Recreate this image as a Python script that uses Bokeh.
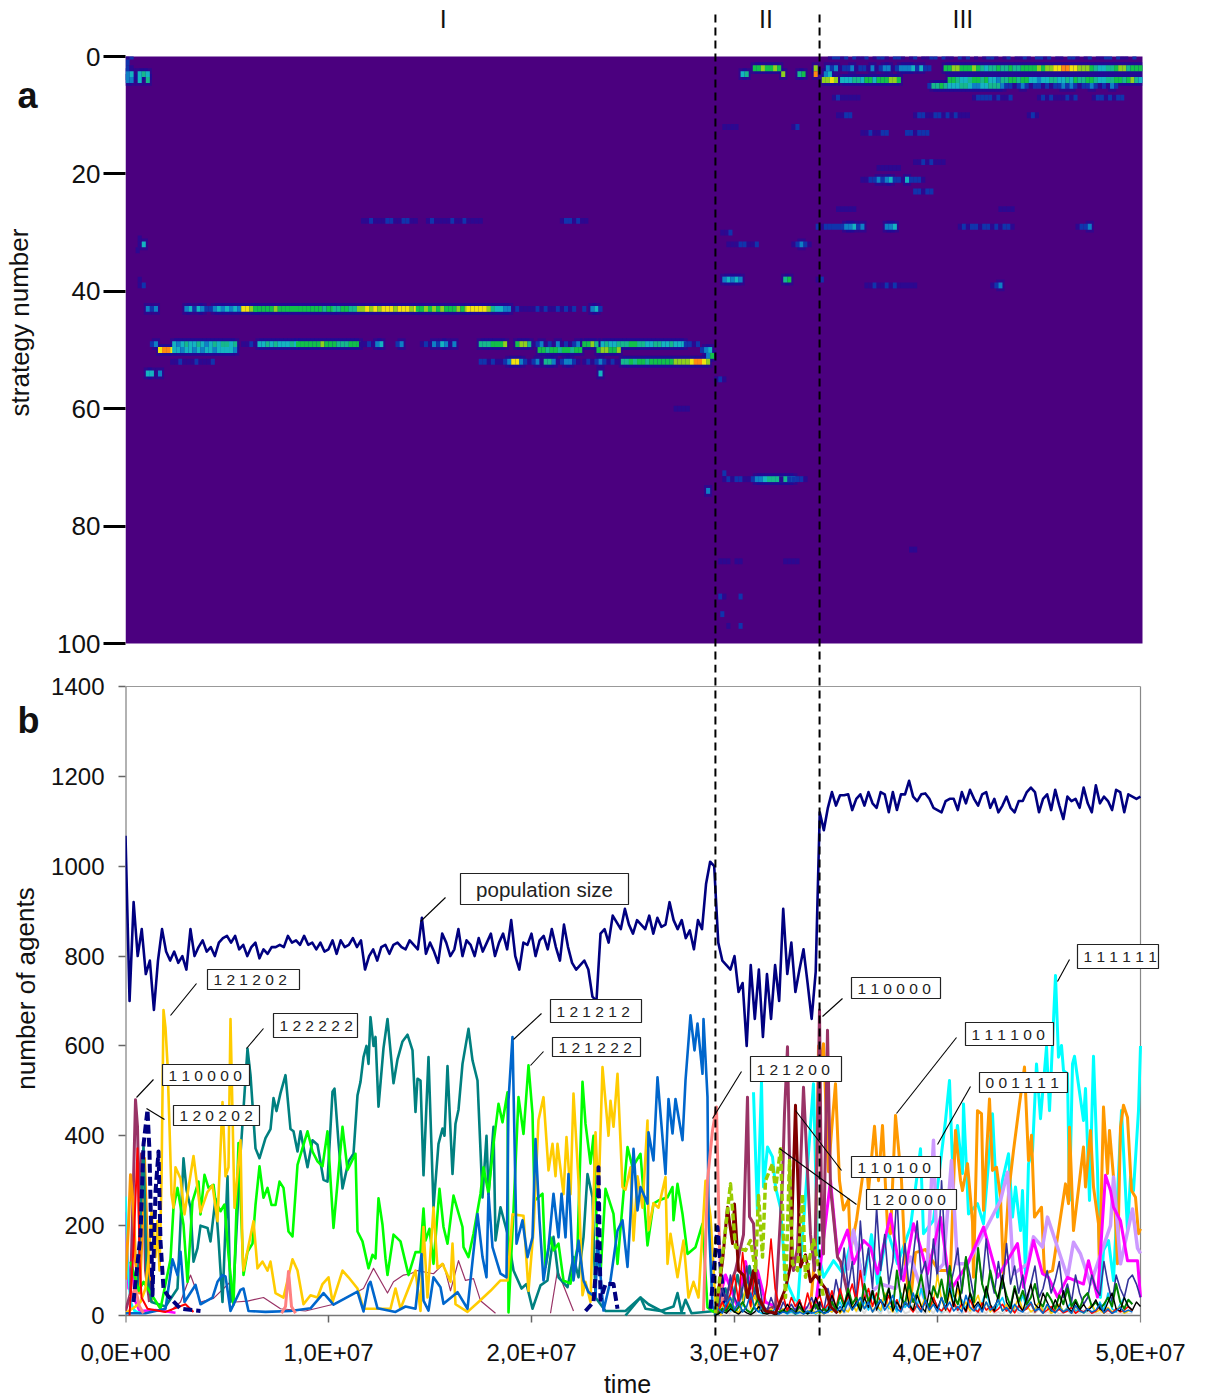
import math
from bokeh.plotting import figure
from bokeh.layouts import column, row
from bokeh.embed import file_html
from bokeh.resources import INLINE
from bokeh.models import Range1d, FixedTicker, LinearColorMapper, ColumnDataSource
from bokeh.core.properties import value

# ------------------------- DATA -------------------------
Y_TICKS_A = [0, 20, 40, 60, 80, 100]
Y_TICKS_B = [0, 200, 400, 600, 800, 1000, 1200, 1400]
X_TICKS = [0, 1e7, 2e7, 3e7, 4e7, 5e7]
X_LABELS = ["0,0E+00", "1,0E+07", "2,0E+07", "3,0E+07", "4,0E+07", "5,0E+07"]
PHASE_BOUNDS = [29.06e6, 34.19e6]
PHASES = [("I", 15.65e6), ("II", 31.55e6), ("III", 41.25e6)]

HEAT_PALETTE = ["#4B007F", "#2C0890", "#1034AC", "#0E80C4", "#14B4C0", "#16B88C", "#12C04A", "#8FD01E", "#F2E40E", "#FF8A10"]
# (strategy, start time in 1e6, one digit per 0.2e6 of time)
HEAT = [
 (0,0.0,"12"),(1,0.0,"2"),(2,0.0,"21"),(3,0.0,"3404540"),(4,0.0,"330405"),
 (28,11.6,"11211122112211"),(28,14.8,"12111121121111"),(28,21.4,"1221211"),
 (32,0.6,"14"),(31,0.6,"1"),(33,0.5,"1"),(38,0.6,"1"),(39,0.6,"12"),
 (43,1.0,"3230"),(43,2.9,"34243223434343"),(43,5.7,"8876"),(43,6.3,"66666766666666666566"),
 (43,10.2,"556655"),(43,11.4,"778787888788878"),(43,14.3,"6676767666767"),(43,16.8,"888887"),
 (43,18.0,"54433"),(43,19.0,"1211112121121212"),(43,22.5,"20342"),
 (49,1.2,"23"),(49,2.3,"4345445434545545"),(49,5.7,"1121"),(49,6.5,"4454544454"),
 (49,8.4,"6666667666555666"),(49,11.5,"112134"),(49,13.3,"23"),(49,14.5,"121324313"),
 (49,17.4,"5556667"),(49,19.2,"6775"),(49,20.0,"1231213121231"),(49,22.5,"6675"),
 (49,23.4,"45445"),(49,24.4,"5566554455"),(49,26.4,"445444"),(49,27.5,"2212"),
 (50,1.6,"8998"),(50,2.3,"4434434344344443"),(50,20.3,"66566566566"),(50,23.2,"677667"),
 (50,28.3,"234"),(51,28.6,"36"),
 (52,2.2,"11211121112"),(52,17.4,"2212112388321231553123321"),(52,22.5,"121232121"),
 (52,24.4,"5565665666"),(52,26.4,"666777789987"),
 (54,1.0,"4403"),(54,23.3,"4"),(55,29.0,"121"),(60,27.0,"1111"),
 (71,29.4,"2"),(72,29.4,"1212211233455555542"),(72,32.2,"1022"),(72,33.2,"21"),(74,28.6,"3"),
 (86,29.2,"111011"),(86,32.4,"1111"),(84,38.6,"11"),(92,29.2,"21"),(92,30.2,"2"),(95,29.3,"2"),(97,29.6,"1"),(97,30.2,"2"),
 (0,34.6,"1221202112012210221012011220211021201012210120112102212011022101201122021102"),
 (2,30.9,"6676676"),(2,33.9,"7"),
 (2,34.5,"32312231221312331233342422"),
 (2,40.3,"66776667654556556556666767788998877765445567756667767"),
 (3,30.3,"45"),(3,32.3,"7"),(3,33.1,"56"),(3,33.9,"9"),(3,34.4,"34"),
 (4,34.3,"7787"),(4,35.2,"444554664666776"),
 (4,40.5,"665445665644355665664434455445465566544556656754"),
 (5,39.5,"2556544455433445553"),(5,43.3,"2212321221212232321223212132"),
 (7,34.8,"1211111"),(7,41.7,"1222212112"),(7,44.9,"1212111212"),(7,47.6,"12212122"),
 (10,35.0,"1122"),(10,38.8,"12211221212111"),(10,44.4,"121"),
 (13,36.2,"1121122"),(13,38.4,"221222"),(12,29.4,"1111"),(12,32.8,"12"),
 (18,38.8,"11212111"),(19,37.0,"111111"),
 (21,36.2,"112232342212"),(21,38.4,"42221"),(23,38.8,"22122"),
 (26,35.0,"11111"),(26,43.0,"1111"),
 (29,34.0,"21222"),(29,35.0,"2233423"),(29,37.4,"334"),(29,41.0,"12122122121221"),(29,46.8,"1223"),
 (30,29.3,"112"),(32,29.6,"11122112"),(32,32.8,"12321"),
 (38,29.4,"34343"),(38,32.4,"56"),(38,34.0,"12"),(39,36.4,"1121121211111"),(39,42.6,"123"),
]

POP = [1068,700,920,800,860,760,790,680,790,860,810,790,810,785,800,
 770,860,800,820,835,810,820,800,830,840,845,830,845,815,825,
 800,820,830,795,815,805,820,820,825,820,845,830,835,825,845,
 825,830,815,830,810,815,835,805,835,820,825,840,820,835,770,
 800,815,790,820,825,805,825,830,820,815,835,825,815,885,805,
 830,810,785,850,830,800,815,860,800,835,825,800,840,810,830,
 850,800,830,850,815,880,800,770,830,825,850,800,835,845,815,
 860,820,790,870,820,785,770,780,790,770,710,700,850,860,830,
 890,875,860,905,870,850,880,870,860,890,850,885,865,870,920,
 880,860,880,840,857,815,880,860,961,1010,1000,830,790,
 780,770,800,720,740,600,780,660,770,620,760,660,780,700,905,760,830,720,770,815,740,660,765,
 1120,1080,1130,1165,
 1135,1158,1158,1160,1125,1150,1160,1135,1165,1140,1130,1165,1160,1120,1165,1125,
 1160,1160,1190,1155,1145,1160,1162,1150,1130,1125,1120,1145,1150,1150,1125,1165,
 1140,1170,1150,1135,1160,1165,1130,1150,1120,1135,1155,1130,1120,1145,1145,1165,
 1175,1165,1120,1150,1160,1125,1170,1135,1105,1155,1145,1150,1130,1175,1140,
 1120,1180,1140,1155,1145,1125,1170,1165,1120,1160,1155,1150,1155]

# series below: (sample index, agents); one index = 5e7/1015 of time
GOLD = [(0,5),(10,20),(15,30),(20,60),(24,150),(26,230),(28,180),(30,130),(32,210),(34,100),(36,300),(38,680),(40,640),(42,560),(44,420),(46,270),(48,240),(50,330),(55,305),(59,225),(62,270),(68,355),(75,230),(82,275),(87,290),(92,210),(97,475),(100,310),(103,330),(105,660),(109,240),(115,390),(117,140),(118,100),(128,210),(132,105),(137,120),(142,100),(145,120),(150,50),(158,40),(167,125),(172,100),(178,25),(185,45),(192,40),(197,70),(203,85),(207,30),(217,100),(223,85),(232,60),(238,15),(265,15),(270,60),(275,15),(290,100),(295,10),(298,197),(302,40),(308,240),(312,105),(317,115),(325,75),(327,160),(330,25),(342,8),(353,30),(365,55),(375,78),(382,78),(387,225),(398,222),(403,55),(408,190),(413,435),(418,486),(423,323),(427,382),(430,310),(432,382),(438,270),(441,397),(445,270),(448,494),(453,300),(457,45),(460,75),(465,30),(470,408),(473,263),(477,553),(483,400),(485,478),(488,420),(492,538),(497,286),(500,280),(505,330),(508,167),(512,310),(517,240),(522,434),(523,190),(528,250),(533,240),(540,308),(542,115),(545,182),(552,85),(558,167),(563,40),(568,75),(573,40),(580,300),(585,220),(590,30),(596,0)]
TEAL = [(12,60),(18,380),(21,100),(26,30),(40,20),(52,60),(58,350),(61,280),(65,240),(68,120),(72,150),(75,200),(82,195),(85,165),(90,260),(93,170),(97,30),(102,310),(105,30),(108,60),(115,360),(118,460),(122,594),(125,535),(130,372),(134,350),(140,395),(145,415),(148,484),(151,455),(155,495),(160,535),(165,415),(168,410),(172,365),(175,410),(178,375),(182,330),(187,390),(192,380),(198,302),(202,298),(207,498),(209,505),(213,385),(217,283),(223,343),(228,360),(232,490),(235,520),(238,575),(241,600),(243,560),(245,664),(248,600),(250,620),(253,465),(258,595),(262,660),(268,517),(272,570),(277,610),(282,625),(287,590),(290,453),(292,527),(295,523),(298,312),(303,575),(308,241),(313,382),(317,416),(319,400),(322,555),(327,315),(330,427),(333,458),(337,560),(343,638),(347,568),(352,523),(357,263),(361,400),(363,270),(368,420),(370,167),(375,241),(382,182),(388,100),(396,60),(401,70),(407,15),(415,67),(422,78),(425,130),(428,175),(433,85),(442,63),(448,130),(453,85),(458,174),(462,315),(467,263),(470,40),(480,10),(500,10),(515,40),(523,25),(540,5),(560,5)]
GREEN = [(5,120),(13,55),(18,75),(35,15),(45,125),(48,240),(52,284),(58,202),(62,75),(67,254),(73,298),(75,225),(79,313),(83,284),(88,291),(90,254),(95,232),(99,247),(103,135),(108,24),(113,384),(118,90),(122,142),(127,160),(130,246),(134,332),(138,262),(142,284),(146,246),(150,246),(154,298),(158,284),(163,187),(167,176),(172,335),(182,410),(187,365),(192,343),(197,332),(202,410),(208,195),(217,420),(222,324),(230,360),(232,187),(237,165),(243,105),(247,135),(250,127),(253,261),(257,202),(260,127),(262,90),(268,180),(275,165),(283,90),(290,141),(295,141),(298,238),(300,167),(304,193),(308,115),(314,282),(318,197),(322,160),(328,267),(337,197),(338,152),(343,130),(348,182),(355,271),(358,330),(363,271),(368,382),(373,471),(377,430),(382,497),(383,7),(388,234),(393,486),(398,404),(403,557),(407,449),(409,256),(417,271),(420,108),(425,174),(428,145),(433,160),(438,78),(445,71),(452,152),(457,520),(460,427),(465,338),(468,400),(472,152),(475,93),(480,282),(488,226),(492,115),(502,375),(507,330),(515,360),(522,156),(528,249),(533,256),(542,263),(547,286),(548,212),(552,293),(557,226),(562,137),(570,152),(577,204),(582,18),(590,5)]
BLUE = [(0,5),(20,5),(30,10),(40,15),(47,125),(52,90),(55,142),(59,30),(70,68),(75,25),(87,40),(92,75),(97,90),(100,87),(105,10),(115,57),(118,60),(123,10),(140,8),(165,10),(185,16),(198,50),(205,32),(208,24),(232,53),(238,9),(243,68),(245,75),(252,16),(270,8),(280,20),(290,15),(296,137),(298,33),(303,11),(308,85),(315,63),(318,26),(332,52),(342,15),(352,226),(357,130),(361,85),(363,271),(367,152),(372,115),(375,93),(381,85),(383,479),(387,620),(391,160),(397,212),(402,130),(407,174),(410,393),(414,212),(418,78),(423,152),(428,271),(433,174),(436,271),(440,174),(443,315),(448,78),(453,167),(458,78),(463,52),(470,41),(472,167),(478,11),(485,78),(492,189),(497,212),(502,108),(505,223),(508,371),(512,234),(515,286),(522,249),(523,408),(528,345),(532,530),(540,315),(543,482),(547,405),(550,482),(557,390),(560,523),(565,668),(569,590),(572,650),(577,538),(578,660),(582,486),(583,226),(587,20),(592,5)]
MAROON_THIN = [(45,10),(55,30),(65,90),(70,60),(75,30),(88,38),(105,75),(110,30),(122,32),(138,40),(155,15),(180,10),(208,25),(238,60),(248,105),(262,50),(268,75),(278,90),(285,93),(292,100),(308,93),(318,115),(325,55),(333,122),(340,78),(348,82),(355,33),(370,5)]
MAROON_THIN_B = [(425,5),(432,100),(448,10)]
MAROON_EARLY = [(0,10),(5,50),(8,300),(10,480),(12,420),(14,200),(16,360),(18,340),(20,100),(24,30)]
MAROON_II = [(590,5),(600,40),(610,100),(618,180),(622,486),(624,220),(628,205),(632,40),(636,10),(650,20),(657,300),(659,450),(662,598),(665,225),(668,100),(672,150),(678,508),(685,180),(689,100),(692,400),(694,680),(696,240),(698,137),(702,635),(705,285),(712,130),(715,120),(725,20)]
DARKRED = [(590,5),(597,120),(602,241),(607,160),(609,248),(613,100),(618,90),(622,40),(628,100),(633,40),(640,10),(650,5),(660,60),(665,110),(670,468),(675,108),(680,135),(685,75),(690,90),(700,60),(705,20),(712,5)]
OLIVE = [(590,5),(598,152),(605,293),(610,152),(620,145),(625,167),(630,100),(633,267),(637,130),(640,300),(647,338),(650,280),(655,371),(660,40),(664,345),(667,115),(672,100),(677,270),(680,85),(688,168),(693,108),(698,40)]
SALMON_A = [(5,40),(10,60),(14,20),(18,5)]
SALMON_B = [(156,5),(160,20),(163,98),(166,20),(170,5)]
SALMON_C = [(578,10),(582,300),(587,412),(591,464),(594,153),(597,20),(605,5)]
CYAN = [(628,497),(632,226),(636,520),(638,286),(642,375),(647,353),(650,286),(655,240),(660,80),(672,20),(688,516),(692,152),(698,85),(708,122),(718,92),(728,190),(738,70),(746,180),(752,70),(762,190),(772,115),(785,197),(795,371),(798,182),(808,212),(820,434),(824,523),(827,338),(832,423),(837,316),(838,471),(843,226),(852,249),(858,204),(867,449),(872,219),(877,301),(883,360),(887,219),(890,286),(895,189),(897,278),(900,93),(903,338),(907,367),(911,560),(915,438),(921,598),(924,456),(930,757),(933,575),(936,601),(938,545),(942,538),(944,256),(947,560),(949,577),(958,434),(960,505),(964,256),(968,577),(972,323),(975,40),(978,145),(983,167),(988,78),(996,456),(1002,189),(1005,308),(1008,278),(1013,456),(1015,600)]
ORANGE = [(685,20),(690,150),(693,600),(695,560),(698,605),(703,320),(706,410),(710,516),(714,300),(718,235),(723,258),(725,145),(731,212),(737,308),(742,312),(743,278),(749,421),(753,300),(757,423),(762,197),(765,182),(770,445),(776,300),(780,100),(785,30),(790,140),(800,147),(813,100),(825,100),(830,412),(835,301),(837,278),(842,338),(847,208),(848,85),(852,456),(856,449),(858,234),(864,482),(867,323),(871,330),(875,263),(878,93),(883,271),(888,367),(894,471),(899,553),(903,345),(906,401),(909,219),(916,241),(919,93),(927,100),(933,189),(940,293),(943,249),(944,419),(948,189),(952,263),(958,375),(960,286),(965,412),(968,286),(973,204),(974,100),(978,464),(982,316),(984,412),(988,308),(992,115),(995,419),(998,468),(1002,441),(1006,278),(1010,263),(1013,182),(1015,193)]
ORANGE_EARLY = [(0,80),(3,200),(5,313),(8,240),(10,120),(14,50),(17,200),(19,350),(22,150),(26,30)]
RED_EARLY = [(4,0),(8,150),(12,372),(14,130),(16,40),(22,15),(40,8),(60,25),(68,8)]
MAGENTA_EARLY = [(0,230),(3,60),(6,130),(10,30),(14,10),(30,12),(50,6)]
CYAN_EARLY = [(0,265),(2,120),(5,30),(9,10),(15,5)]
LAVENDER_EARLY = [(0,180),(3,90),(6,20),(12,5)]
MAGENTA = [(590,5),(600,90),(612,20),(620,120),(625,60),(632,100),(640,30),(660,10),(690,20),(705,300),(712,135),(722,190),(728,115),(738,167),(745,152),(752,93),(765,226),(775,90),(778,78),(788,204),(795,152),(802,93),(815,219),(825,56),(842,115),(858,197),(872,85),(892,160),(898,63),(908,167),(917,93),(923,85),(932,41),(942,85),(958,70),(963,122),(972,41),(980,312),(985,278),(988,241),(995,211),(1002,122),(1012,122),(1015,41)]
LAVENDER = [(722,100),(728,190),(740,40),(755,70),(770,60),(785,130),(800,30),(808,390),(812,100),(818,115),(826,345),(832,115),(842,115),(855,170),(868,226),(875,256),(882,319),(888,93),(902,115),(908,175),(917,152),(922,219),(932,152),(942,85),(948,163),(955,137),(965,70),(985,200),(988,308),(995,115),(1007,237),(1012,150),(1015,138)]
NAVY_DASH_A = [(8,30),(15,180),(18,380),(22,458),(24,365),(27,45),(30,275),(33,365),(35,165),(38,60),(42,45),(55,15),(75,10)]
NAVY_DASH_B = [(460,10),(468,30),(472,150),(473,330),(475,35),(480,70),(488,70),(492,15)]
NAVY_DASH_C = [(585,15),(592,197),(595,110),(598,40),(602,10)]
TEAL_LOW = [(500,0),(515,40),(520,15),(535,10),(548,20),(552,50),(556,8),(560,35),(566,5),(590,10),(600,60),(606,10),(612,90),(618,30),(624,110),(630,40),(640,10)]

# Low, busy series of phases II and III: one value per 0.2e6 of time, from t = 29e6
PURPLE = [5,20,60,30,90,40,20,60,110,30,50,80,20,10,40,15,5,30,12,25,10,35,8,20,40,15,30,12,60,22,80,40,150,60,120,30,
          210,90,150,60,240,100,180,70,120,270,80,160,60,130,210,90,120,50,170,80,300,120,60,100,150,50,130,90,40,140,70,170,90,50,120,60,160,70,110,50,90,30,70,110,40,60,100,50,80,120,40,70,30,90,50,25,40,90,60,45,120,70,30,90,60,40,80,90,70,40]
DKGREEN = [0,5,15,10,25,8,18,30,12,6,22,40,15,5,10,3,8,12,6,15,5,20,8,4,12,25,6,15,8,30,12,45,20,60,25,40,15,
           70,30,55,20,85,35,60,15,100,40,25,75,30,50,90,35,20,65,40,80,30,110,45,25,60,130,50,30,150,70,40,100,60,35,80,45,20,65,30,55,25,40,70,30,20,50,35,15,45,25,60,20,35,15,40,50,20,30,15,25,40,20,70,30,15,35,25]
BLACK = [0,3,10,5,15,8,3,12,6,2,8,20,5,3,6,2,5,8,25,12,4,30,10,4,8,40,15,5,10,45,20,8,25,50,15,30,10,
         40,18,55,12,35,20,60,10,30,15,70,25,12,45,20,8,55,30,15,40,12,60,20,75,25,10,50,18,30,12,65,25,10,45,90,30,15,60,25,10,40,70,25,15,50,30,10,35,15,55,20,8,30,12,25,10,20,35,15,8,30,50,15,10,40,20,12,30,20]
RED = [0,8,30,12,50,90,30,140,60,20,100,40,15,70,170,60,20,45,10,40,20,35,10,50,15,30,45,12,25,55,15,60,25,40,70,30,100,
       35,60,20,50,30,20,45,15,35,10,30,20,8,25,12,30,15,40,18,10,22,8,30,12,25,8,35,15,8,28,12,20,8,15,25,10,18,6,22,10,15,28,8,18,6,12,20,8,14,6,10,18,5,12,8,15,5,10,20,6,12,5,15,8,12,20,10]
GOLD_LOW = [0,10,25,8,40,15,5,30,70,15,45,10,20,5,15,3,8,15,5,12,3,10,5,8,15,5,10,3,12,8,20,5,15,8,25,10,30,
            15,40,8,25,12,50,20,8,35,15,70,25,10,55,20,40,8,30,90,35,12,50,20,60,15,30,10,25,45,12,30,8,20,35,10,25,6,18,40,12,22,8,15,30,10,20,5,12,25,8,15,5,20,10,6,14,25,8,12,5,18,8,12,20,5,10,12]
SKY = [0,8,15,30,10,20,5,25,12,6,18,8,4,12,6,2,5,10,3,8,2,6,15,4,8,3,10,5,20,8,15,30,10,40,18,25,10,
       30,12,45,20,10,35,15,25,8,50,18,30,10,22,60,25,12,40,18,8,30,70,25,12,35,15,45,20,8,30,55,18,10,25,40,12,30,8,18,45,15,25,8,30,12,20,6,15,25,8,18,30,10,15,5,12,20,8,30,12,50,15,8,25,40,20,10]
BLUE_LOW = [0,15,5,25,40,12,30,8,20,50,15,8,25,10,5,15,3,8,5,12,4,8,3,10,5,8,12,4,8,15,6,20,8,30,12,25,40,
            15,30,8,22,35,12,25,45,15,8,30,18,50,20,8,35,12,25,8,40,15,30,10,20,8,45,18,10,25,8,30,12,20,35,10,18,6,25,12,8,20,30,10,15,5,25,12,6,18,8,14,5,22,10,6,15,8,12,25,6,15,5,10,18,8,12,8]
GREY_LOW = [0,4,10,3,8,15,4,8,20,6,3,12,5,2,8,3,25,6,12,4,30,8,3,10,40,8,3,15,6,25,8,20,5,12,35,8,15,
            5,20,8,12,4,25,6,10,3,18,5,8,25,6,12,3,15,5,20,4,10,6,25,8,3,12,5,15,3,10,5,20,4,8,3,12,6,18,4,8,3,10,5,14,3,8,4,12,3,6,10,3,8,5,12,4,8,3,6,10,3,5,8,3,6,4,5]

BOXES = [("population size",460,628,873,904,20.5,"center"),
         ("1 2 1 2 0 2",207,299,969,989,15.5,"left"),("1 2 2 2 2 2",273,357,1013,1037,15.5,"left"),
         ("1 1 0 0 0 0",162,249,1064,1085,15.5,"left"),("1 2 0 2 0 2",173,259,1105,1125,15.5,"left"),
         ("1 2 1 2 1 2",550,641,999,1022,15.5,"left"),("1 2 1 2 2 2",552,640,1037,1056,15.5,"left"),
         ("1 2 1 2 0 0",750,841,1056,1081,15.5,"left"),("1 1 0 0 0 0",851,940,977,998,15.5,"left"),
         ("1 1 1 1 0 0",965,1053,1022,1045,15.5,"left"),("0 0 1 1 1 1",979,1067,1072,1092,15.5,"left"),
         ("1 1 1 1 1 1",1077,1158,944,968,15.5,"left"),("1 1 0 1 0 0",851,940,1156,1177,15.5,"left"),
         ("1 2 0 0 0 0",866,956,1189,1209,15.5,"left")]
LEADERS = [(420,921,445,897),(170,1015,196,983),(246,1048,263,1028),(136,1097,153,1079),(146,1108,164,1119),
           (513,1039,541,1013),(530,1065,543,1051),(712,1118,741,1071),(822,1016,842,998),(896,1113,956,1037),
           (937,1144,970,1086),(1057,981,1069,959),(795,1110,841,1170),(779,1148,856,1204)]
SIDE_TEXTS = [("a", 27, 95, 36, 0.0, "bold"), ("strategy number", 19, 322, 26, math.pi / 2, "normal"),
              ("b", 28, 720, 36, 0.0, "bold"), ("number of agents", 25, 988, 26, math.pi / 2, "normal")]

# ------------------------- HELPERS -------------------------
FONT = "Liberation Sans"
T_MAX = 5e7
PX_X = 1015 / T_MAX           # pixels per unit of time
PX_A = 5.87                   # pixels per strategy
PX_B = 629 / 1400             # pixels per agent
T_UNIT = T_MAX / 1015
X_RANGE = (0, 1080 / PX_X)
STRIP = 42                    # width of the strip that holds the side texts
PAGE_H = 1397

def tx(px):
    return (px - 125) / PX_X

def vy(py):
    return (1315 - py) / PX_B

def base(height, y_range, border_bottom, border_left=125 - STRIP):
    f = figure(width=1205 - STRIP, height=height, x_range=Range1d(*X_RANGE), y_range=y_range,
               output_backend="svg", toolbar_location=None, min_border_left=border_left, min_border_right=0,
               min_border_top=0, min_border_bottom=border_bottom, outline_line_color=None,
               background_fill_color=None, border_fill_color=None)
    f.grid.visible = False
    return f

def style_y(f, ticks, size, out, width, color, standoff):
    ax = f.yaxis[0]
    ax.ticker = FixedTicker(ticks=ticks)
    ax.axis_line_color = None
    ax.minor_tick_line_color = None
    ax.major_tick_in = 0
    ax.major_tick_out = out
    ax.major_tick_line_width = width
    ax.major_tick_line_color = color
    ax.major_label_text_font = FONT
    ax.major_label_text_font_size = size
    ax.major_label_text_color = "#111111"
    ax.major_label_standoff = standoff

# ------------------------- SIDE STRIP -------------------------
side = figure(width=STRIP, height=PAGE_H, x_range=Range1d(0, STRIP), y_range=Range1d(PAGE_H, 0),
              output_backend="svg", toolbar_location=None, min_border=0, outline_line_color=None,
              background_fill_color=None, border_fill_color=None, x_axis_type=None, y_axis_type=None)
side.grid.visible = False
for text, px, py, size, angle, style in SIDE_TEXTS:
    side.text(x=[px], y=[py], text=[text], text_font=value(FONT), text_font_size=f"{size}px", angle=[angle],
              text_font_style=style, text_align="center", text_baseline="middle", text_color="#111111")

# ------------------------- PANEL A -------------------------
A_H = 664
pa = base(A_H, Range1d((664 - 56) / PX_A, (0 - 56) / PX_A), 0)
pa.xaxis.visible = False
style_y(pa, Y_TICKS_A, "26px", 22, 3, "#000000", 3)

pa.quad(left=[0], right=[tx(1142)], top=[0], bottom=[100], fill_color=HEAT_PALETTE[0], line_color=None)
cells = {"l": [], "r": [], "t": [], "b": [], "lv": []}
halo = {"l": [], "r": [], "t": [], "b": []}
for strategy, start, digits in HEAT:
    for k, d in enumerate(digits):
        t0 = (start + 0.2 * k) * 1e6
        if d == "0" or t0 >= tx(1142):
            continue
        t1 = min(t0 + 0.2e6, tx(1142))
        cells["l"].append(t0)
        cells["r"].append(t1)
        cells["t"].append(max(strategy - 0.5, 0))
        cells["b"].append(strategy + 0.5)
        cells["lv"].append(int(d))
        if int(d) >= 3:
            halo["l"].append(t0 - 0.1e6)
            halo["r"].append(min(t1 + 0.1e6, tx(1142)))
            halo["t"].append(max(strategy - 1.0, 0))
            halo["b"].append(strategy + 1.0)
mapper = LinearColorMapper(palette=HEAT_PALETTE, low=0, high=9)
pa.quad(left="l", right="r", top="t", bottom="b", source=ColumnDataSource(halo),
        fill_color="#1010A0", fill_alpha=0.45, line_color=None)
pa.quad(left="l", right="r", top="t", bottom="b", source=ColumnDataSource(cells),
        fill_color={"field": "lv", "transform": mapper}, line_color=None)

for name, t in PHASES:
    pa.text(x=[t], y=[(18 - 56) / PX_A], text=[name], text_font=value(FONT), text_font_size="25px",
            text_align="center", text_baseline="middle", text_color="#111111")
for t in PHASE_BOUNDS:
    pa.segment(x0=[t], x1=[t], y0=[(14 - 56) / PX_A], y1=[(664 - 56) / PX_A], line_color="black",
               line_width=2, line_dash="8 5")

# ------------------------- PANEL B -------------------------
B_H = 705          # 664 .. 1369
pb = base(B_H, Range1d(vy(1337), vy(664)), 32)
style_y(pb, Y_TICKS_B, "24px", 7, 1.5, "#666666", 14)
xa = pb.xaxis[0]
xa.ticker = FixedTicker(ticks=X_TICKS)
xa.major_label_overrides = {t: l for t, l in zip(X_TICKS, X_LABELS)}
xa.axis_line_color = None
xa.major_tick_line_color = None
xa.minor_tick_line_color = None
xa.major_label_text_font = FONT
xa.major_label_text_font_size = "24px"
xa.major_label_text_color = "#111111"
xa.major_label_standoff = -5

pb.segment(x0=[0, T_MAX, 0, 0], x1=[0, T_MAX, T_MAX, T_MAX], y0=[vy(686), vy(686), 1400, 0],
           y1=[vy(1322), vy(1322), 1400, 0], line_color=["#666666", "#888888", "#999999", "#777777"],
           line_width=[2, 1.2, 1, 1.5])
ticks_x = X_TICKS[1:-1]
pb.segment(x0=ticks_x, x1=ticks_x, y0=[0] * 4, y1=[vy(1322)] * 4, line_color="#666666", line_width=1.5)

def pairs(f, data, color, width, dash="solid"):
    xs = [i * T_UNIT for i, _ in data]
    ys = [v for _, v in data]
    f.line(xs, ys, line_color=color, line_width=width, line_dash=dash, line_join="round")

def grid(f, vals, color, width):
    xs = [29e6 + k * 0.2e6 for k in range(len(vals))]
    f.line(xs, vals, line_color=color, line_width=width, line_join="round")

pairs(pb, MAROON_THIN, "#993366", 1.2)
pairs(pb, MAROON_THIN_B, "#993366", 1.2)
pairs(pb, LAVENDER_EARLY, "#CC99FF", 2.5)
pairs(pb, MAGENTA_EARLY, "#FF00FF", 2.5)
pairs(pb, CYAN_EARLY, "#00FFFF", 2.5)
pairs(pb, CYAN, "#00FFFF", 3)
pairs(pb, ORANGE, "#FF9900", 3)
pairs(pb, LAVENDER, "#CC99FF", 3.5)
pairs(pb, MAGENTA, "#FF00FF", 3)
pairs(pb, MAROON_II, "#993366", 3)
pairs(pb, MAROON_EARLY, "#993366", 3)
pairs(pb, ORANGE_EARLY, "#FF9900", 3)
pairs(pb, TEAL, "#008080", 2.6)
pairs(pb, TEAL_LOW, "#008080", 2.6)
pairs(pb, GREEN, "#00FF00", 2.6)
pairs(pb, GOLD, "#FFCC00", 2.6)
pairs(pb, BLUE, "#0066CC", 2.6)
pairs(pb, SALMON_A, "#FF8080", 3)
pairs(pb, SALMON_B, "#FF8080", 3)
pairs(pb, SALMON_C, "#FF8080", 3)
pairs(pb, RED_EARLY, "#FF0000", 2)
pairs(pb, NAVY_DASH_A, "#000080", 4, "9 4")
pairs(pb, NAVY_DASH_B, "#000080", 4, "9 4")
pairs(pb, NAVY_DASH_C, "#000080", 4, "9 4")
grid(pb, GREY_LOW, "#DDDDDD", 2)
grid(pb, SKY, "#00CCFF", 1.6)
grid(pb, PURPLE, "#333399", 1.6)
grid(pb, GOLD_LOW, "#FFCC00", 1.6)
grid(pb, RED, "#FF0000", 1.6)
grid(pb, DKGREEN, "#008000", 2)
grid(pb, BLACK, "#000000", 1.4)
grid(pb, BLUE_LOW, "#0066CC", 1.6)
pairs(pb, DARKRED, "#800000", 3)
pairs(pb, OLIVE, "#99CC00", 3.5, "7 3")
pb.line([k * 0.2e6 for k in range(len(POP))], POP, line_color="#000080", line_width=2.6, line_join="round")

for t in PHASE_BOUNDS:
    pb.segment(x0=[t], x1=[t], y0=[vy(664)], y1=[vy(1335)], line_color="black", line_width=2, line_dash="8 5")

pb.segment(x0=[tx(a) for a, _, _, _ in LEADERS], y0=[vy(b) for _, b, _, _ in LEADERS],
           x1=[tx(c) for _, _, c, _ in LEADERS], y1=[vy(d) for _, _, _, d in LEADERS],
           line_color="black", line_width=1.1)
for text, x0, x1, y0, y1, size, align in BOXES:
    pb.quad(left=[tx(x0)], right=[tx(x1)], top=[vy(y0)], bottom=[vy(y1)], fill_color="white",
            line_color="#222222", line_width=1.2)
    xt = (x0 + x1) / 2 if align == "center" else x0 + 6
    pb.text(x=[tx(xt)], y=[vy((y0 + y1) / 2)], text=[text], text_font=value(FONT),
            text_font_size=f"{size}px", text_align=align, text_baseline="middle", text_color="#222222")

# ------------------------- STRIP WITH THE X TITLE -------------------------
foot = figure(width=1205 - STRIP, height=PAGE_H - 1369, x_range=Range1d(*X_RANGE), y_range=Range1d(PAGE_H, 1369),
              output_backend="svg", toolbar_location=None, min_border_left=125 - STRIP, min_border_right=0,
              min_border_top=0, min_border_bottom=0, outline_line_color=None, background_fill_color=None,
              border_fill_color=None, x_axis_type=None, y_axis_type=None)
foot.grid.visible = False
foot.text(x=[tx(627)], y=[1383], text=["time"], text_font=value(FONT), text_font_size="25px",
          text_align="center", text_baseline="middle", text_color="#111111")

layout = row(side, column(pa, pb, foot, spacing=0), spacing=0)
open("out.html", "w").write(file_html(layout, INLINE))
